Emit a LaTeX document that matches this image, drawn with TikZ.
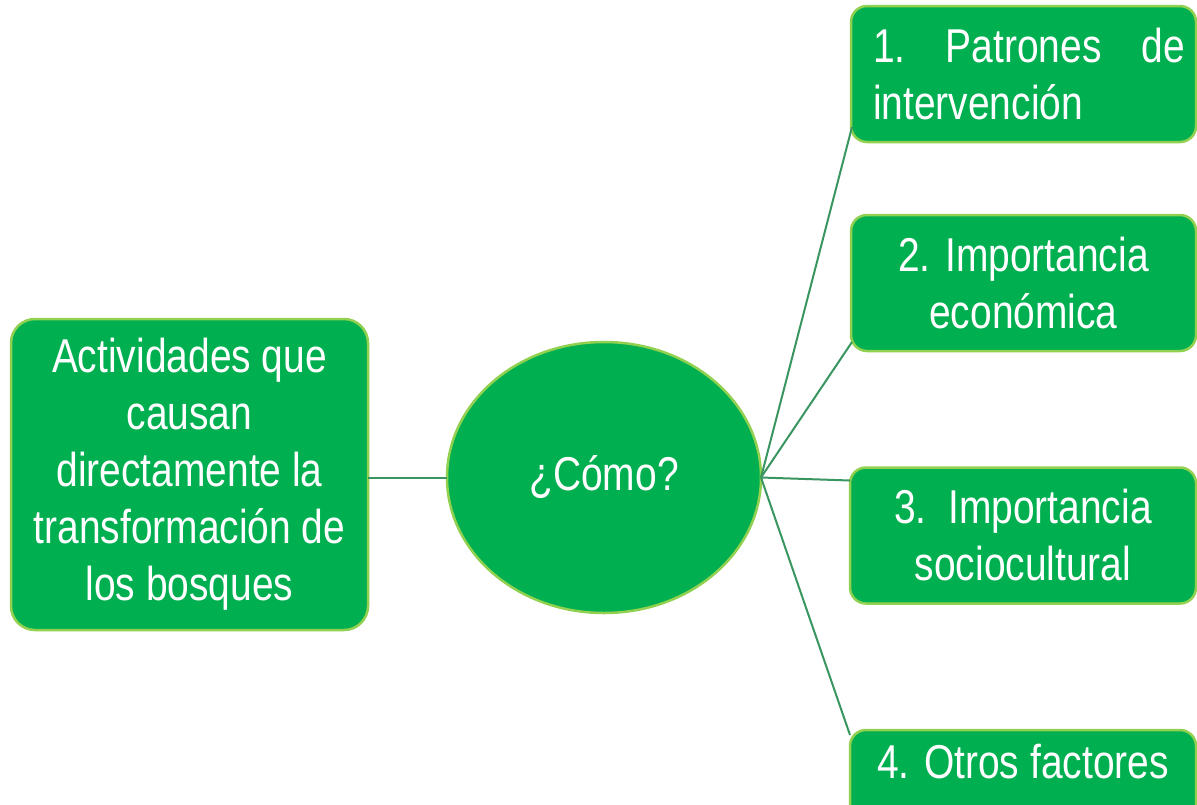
\documentclass[tikz,border=0pt]{standalone}
\usepackage{fontspec}
\setmainfont{Liberation Sans}[FakeStretch=0.82]
\usetikzlibrary{shapes.geometric,calc}
\definecolor{boxgreen}{HTML}{00B050}
\definecolor{rimgreen}{HTML}{92D050}
\definecolor{linkgreen}{HTML}{3A9660}
\begin{document}
\begin{tikzpicture}[x=1pt,y=-1pt,
  every node/.style={inner sep=0pt,outer sep=0pt,text=white},
  greenbox/.style={draw=rimgreen,fill=boxgreen,line width=2.5pt,rounded corners=16pt},
  bigtext/.style={font=\fontsize{47.5}{57}\selectfont},
  link/.style={draw=linkgreen,line width=2pt}]
\clip (0,0) rectangle (1197,804);
\fill[white] (0,0) rectangle (1197,804);
% left box
\node[greenbox,rounded corners=24pt,minimum width=357pt,minimum height=311pt,
  align=center,bigtext] (a) at (189.5,474.5)
  {Actividades que\\causan\\directamente la\\transformación de\\los bosques};
% ellipse
\node[ellipse,draw=rimgreen,fill=boxgreen,line width=2.5pt,minimum width=314pt,
  minimum height=271pt,bigtext] (e) at (604,477.5) {¿Cómo?};
% right boxes
\node[greenbox,minimum width=345pt,minimum height=136pt,align=left,bigtext] (b1) at (1023.5,74)
  {\hspace*{11pt}\makebox[312pt][s]{1.\hfill Patrones\hfill de}\\\hspace*{11pt}intervención\hspace*{11pt}};
\node[greenbox,minimum width=345pt,minimum height=136pt,align=center,bigtext] (b2) at (1023.5,283)
  {2. Importancia\\económica};
\node[greenbox,minimum width=346pt,minimum height=136pt,align=center,bigtext] (b3) at (1023,535.5)
  {3.\ \ Importancia\\sociocultural};
\node[greenbox,minimum width=346pt,minimum height=136pt,align=center,bigtext] (b4) at (1023,798)
  {4. Otros factores\\\strut};
% connectors
\draw[link] (e.west -| a.east) -- (e.west);
\draw[link] (e.east) -- ($(b1.south west)+(1,-15)$);
\draw[link] (e.east) -- ($(b2.south west)+(1,-9)$);
\draw[link] (e.east) -- ($(b3.north west)+(0,13)$);
\draw[link] (e.east) -- ($(b4.north west)+(0,5)$);
\end{tikzpicture}
\end{document}
